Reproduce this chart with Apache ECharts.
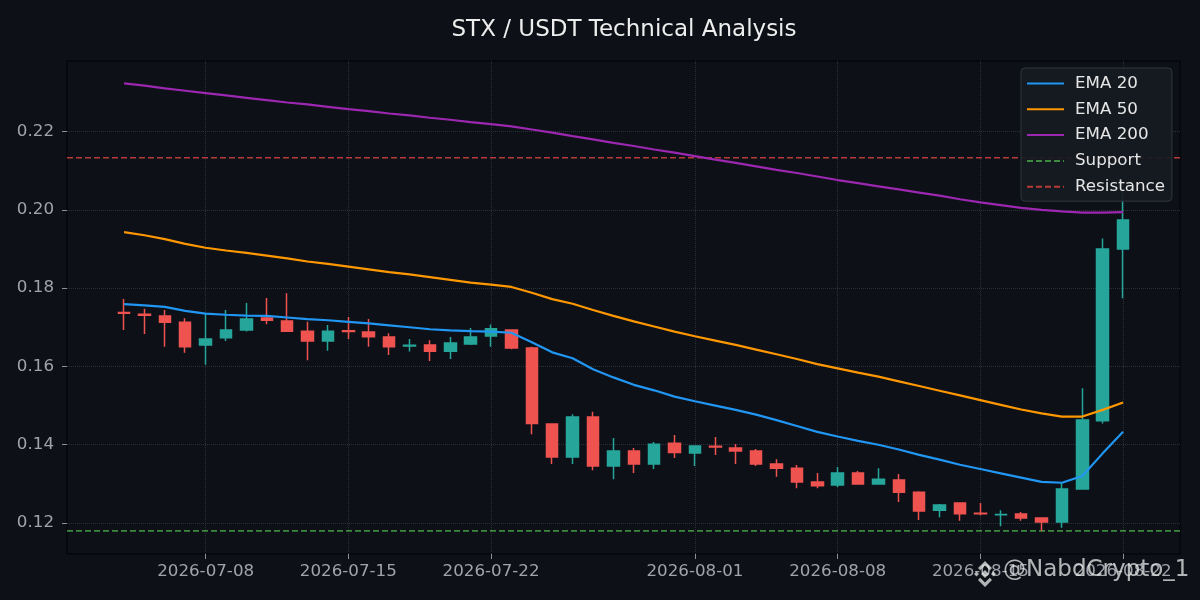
<!DOCTYPE html>
<html><head><meta charset="utf-8">
<script src="https://cdn.jsdelivr.net/npm/echarts@6/dist/echarts.min.js"></script>
<style>html,body{margin:0;padding:0;background:#0d1017}#c{width:1200px;height:600px}</style>
</head><body><div id="c"></div>
<script>
const dates = ['2026-07-04','2026-07-05','2026-07-06','2026-07-07','2026-07-08','2026-07-09','2026-07-10','2026-07-11','2026-07-12','2026-07-13',
'2026-07-14','2026-07-15','2026-07-16','2026-07-17','2026-07-18','2026-07-19','2026-07-20','2026-07-21','2026-07-22','2026-07-23',
'2026-07-24','2026-07-25','2026-07-26','2026-07-27','2026-07-28','2026-07-29','2026-07-30','2026-07-31','2026-08-01','2026-08-02',
'2026-08-03','2026-08-04','2026-08-05','2026-08-06','2026-08-07','2026-08-08','2026-08-09','2026-08-10','2026-08-11','2026-08-12',
'2026-08-13','2026-08-14','2026-08-15','2026-08-16','2026-08-17','2026-08-18','2026-08-19','2026-08-20','2026-08-21','2026-08-22'];
const opens = [0.1738,0.1733,0.1729,0.1713,0.1655,0.1673,0.1693,0.1724,0.1716,0.1690,
0.1665,0.1691,0.1688,0.1675,0.1652,0.1655,0.1639,0.1657,0.1678,0.1693,
0.1647,0.1453,0.1369,0.1471,0.1346,0.1384,0.1351,0.1404,0.1379,0.1396,
0.1392,0.1384,0.1351,0.1340,0.1305,0.1297,0.1328,0.1300,0.1310,0.1279,
0.1233,0.1251,0.1225,0.1221,0.1223,0.1213,0.1203,0.1287,0.1461,0.1900];
const closes = [0.1736,0.1731,0.1713,0.1650,0.1670,0.1693,0.1721,0.1718,0.1690,0.1665,
0.1690,0.1689,0.1676,0.1650,0.1654,0.1639,0.1660,0.1675,0.1696,0.1647,
0.1454,0.1369,0.1471,0.1346,0.1384,0.1351,0.1401,0.1380,0.1397,0.1394,
0.1384,0.1351,0.1340,0.1305,0.1295,0.1328,0.1300,0.1312,0.1279,0.1231,
0.1246,0.1224,0.1224,0.1222,0.1213,0.1203,0.1287,0.1463,0.1900,0.1974];
const lows = [0.1693,0.1683,0.1650,0.1635,0.1604,0.1665,0.1689,0.1708,0.1690,0.1616,
0.1640,0.1670,0.1650,0.1629,0.1638,0.1614,0.1619,0.1655,0.1650,0.1644,
0.1427,0.1351,0.1351,0.1335,0.1312,0.1328,0.1338,0.1366,0.1346,0.1374,
0.1351,0.1346,0.1318,0.1289,0.1289,0.1292,0.1300,0.1300,0.1254,0.1208,
0.1215,0.1206,0.1220,0.1192,0.1206,0.1180,0.1188,0.1287,0.1454,0.1774];
const highs = [0.1772,0.1747,0.1744,0.1723,0.1736,0.1744,0.1762,0.1775,0.1787,0.1714,
0.1706,0.1726,0.1721,0.1685,0.1670,0.1667,0.1675,0.1698,0.1707,0.1693,
0.1650,0.1453,0.1478,0.1484,0.1417,0.1392,0.1407,0.1425,0.1397,0.1420,
0.1402,0.1389,0.1363,0.1348,0.1328,0.1343,0.1333,0.1340,0.1325,0.1281,
0.1249,0.1251,0.1251,0.1233,0.1228,0.1215,0.1302,0.1544,0.1927,0.2050];
const ema20 = [0.1759,0.1756,0.1752,0.1742,0.1735,0.1732,0.1730,0.1729,0.1725,0.1721,
0.1718,0.1714,0.1710,0.1705,0.1700,0.1695,0.1692,0.1690,0.1689,0.1686,
0.1662,0.1636,0.1621,0.1593,0.1572,0.1553,0.1539,0.1523,0.1511,0.1500,
0.1489,0.1477,0.1463,0.1448,0.1433,0.1421,0.1410,0.1400,0.1388,0.1374,
0.1362,0.1349,0.1338,0.1327,0.1316,0.1305,0.1303,0.1320,0.1378,0.1433];
const ema50 = [0.1943,0.1935,0.1925,0.1913,0.1903,0.1896,0.1890,0.1883,0.1876,0.1868,
0.1862,0.1855,0.1848,0.1841,0.1835,0.1828,0.1821,0.1814,0.1809,0.1803,
0.1788,0.1772,0.1760,0.1744,0.1729,0.1715,0.1702,0.1689,0.1677,0.1666,
0.1655,0.1643,0.1631,0.1619,0.1606,0.1595,0.1584,0.1574,0.1562,0.1550,
0.1538,0.1526,0.1514,0.1502,0.1490,0.1480,0.1472,0.1472,0.1489,0.1508];
const ema200 = [0.2323,0.2317,0.2310,0.2304,0.2298,0.2292,0.2286,0.2280,0.2274,0.2269,
0.2263,0.2257,0.2252,0.2246,0.2241,0.2235,0.2230,0.2224,0.2219,0.2213,
0.2205,0.2197,0.2188,0.2180,0.2171,0.2163,0.2154,0.2146,0.2137,0.2128,
0.2120,0.2111,0.2102,0.2094,0.2085,0.2076,0.2068,0.2060,0.2052,0.2044,
0.2036,0.2027,0.2019,0.2012,0.2005,0.2000,0.1996,0.1993,0.1993,0.1994];
const SUPPORT = 0.1180;
const RESISTANCE = 0.2133;
const xTickLabels = ['2026-07-08','2026-07-15','2026-07-22','2026-08-01','2026-08-08','2026-08-15','2026-08-22'];
const yTickValues = [0.12,0.14,0.16,0.18,0.20,0.22];

const ts = d => Date.parse(d + 'T00:00:00Z');
const HOUR = 3600000;
const xMin = ts('2026-07-01') + 4.8 * HOUR;
const xMax = ts('2026-08-24') + 19 * HOUR;
const FONT = 'DejaVu Sans';

const candleData = dates.map((d, i) => [ts(d), opens[i], closes[i], lows[i], highs[i]]);
const lineData = arr => dates.map((d, i) => [ts(d), arr[i]]);

const chart = echarts.init(document.getElementById('c'), null, {renderer: 'canvas'});
const gridColor = '#2c3038';
const labelColor = '#a0a4aa';

const cx = 985, cy = 574;
const wmFill = 'rgba(235,235,235,0.75)';
const poly = pts => ({type: 'polygon', shape: {points: pts.map(p => [cx + p[0], cy + p[1]])}, style: {fill: wmFill}, z: 100});

chart.setOption({
  backgroundColor: '#0d1017',
  animation: false,
  textStyle: {fontFamily: FONT},
  title: {
    text: 'STX / USDT Technical Analysis',
    left: 619, textAlign: 'center', top: 14,
    textStyle: {color: '#eeeeee', fontSize: 23, fontWeight: 'normal', fontFamily: FONT}
  },
  grid: {left: 67, right: 20, top: 61, bottom: 46, show: true, borderColor: '#000000', borderWidth: 1, backgroundColor: '#0d1017'},
  legend: {
    left: 1021, top: 68, orient: 'vertical',
    padding: [7, 7, 6, 5],
    itemWidth: 37, itemHeight: 16, itemGap: 8.8,
    itemStyle: {opacity: 0},
    backgroundColor: 'rgba(22,27,34,0.92)', borderColor: '#30363d', borderWidth: 1, borderRadius: 4,
    textStyle: {color: '#e6e6e6', fontSize: 16.7, fontFamily: FONT, padding: [0, 0, 0, 6]},
    data: ['EMA 20', 'EMA 50', 'EMA 200', 'Support', 'Resistance']
  },
  xAxis: {
    type: 'value', min: xMin, max: xMax, scale: true,
    axisLine: {show: false},
    axisTick: {show: true, length: 5, lineStyle: {color: '#8a8f96'}, customValues: xTickLabels.map(ts)},
    axisLabel: {color: labelColor, fontSize: 16.7, fontFamily: FONT, margin: 9,
      customValues: xTickLabels.map(ts),
      formatter: v => new Date(v).toISOString().slice(0, 10)},
    splitLine: {show: true, lineStyle: {color: gridColor, type: 'dotted', width: 1}}
  },
  yAxis: {
    type: 'value', min: 0.1121, max: 0.238,
    axisLine: {show: false},
    axisTick: {show: true, length: 5, lineStyle: {color: '#8a8f96'}, customValues: yTickValues},
    axisLabel: {color: labelColor, fontSize: 16.7, fontFamily: FONT, margin: 13,
      customValues: yTickValues, formatter: v => v.toFixed(2)},
    splitLine: {show: true, lineStyle: {color: gridColor, type: 'dotted', width: 1}}
  },
  series: [
    {
      name: 'Price', type: 'candlestick', data: candleData, encode: {x: 0, y: [1, 2, 3, 4]},
      barWidth: 12,
      itemStyle: {color: '#26a69a', color0: '#ef5350', borderColor: '#26a69a', borderColor0: '#ef5350', borderWidth: 1.5},
      z: 2
    },
    {name: 'EMA 20', type: 'line', data: lineData(ema20), showSymbol: false, symbol: 'none', lineStyle: {color: '#2196f3', width: 2.2}, itemStyle: {color: '#2196f3'}, z: 3},
    {name: 'EMA 50', type: 'line', data: lineData(ema50), showSymbol: false, symbol: 'none', lineStyle: {color: '#ff9800', width: 2.2}, itemStyle: {color: '#ff9800'}, z: 3},
    {name: 'EMA 200', type: 'line', data: lineData(ema200), showSymbol: false, symbol: 'none', lineStyle: {color: '#9c27b0', width: 2.2}, itemStyle: {color: '#9c27b0'}, z: 3},
    {name: 'Support', type: 'line', data: [[xMin, SUPPORT], [xMax, SUPPORT]], showSymbol: false, symbol: 'none',
      lineStyle: {color: '#3b8a3f', width: 1.6, type: [6, 3]}, itemStyle: {color: '#3b8a3f'}, z: 1},
    {name: 'Resistance', type: 'line', data: [[xMin, RESISTANCE], [xMax, RESISTANCE]], showSymbol: false, symbol: 'none',
      lineStyle: {color: '#b83a3a', width: 1.6, type: [6, 3]}, itemStyle: {color: '#b83a3a'}, z: 1}
  ],
  graphic: [
    {type: 'text', left: 1003, top: 559, style: {text: '@NabdCrypto_1', fill: wmFill, font: '23px "DejaVu Sans"'}, z: 100},
    poly([[0,-4],[4,0],[0,4],[-4,0]]),
    poly([[-8.5,-2.5],[-6,0],[-8.5,2.5],[-11,0]]),
    poly([[8.5,-2.5],[11,0],[8.5,2.5],[6,0]]),
    poly([[0,-13],[7,-6],[4.8,-3.8],[0,-8.6],[-4.8,-3.8],[-7,-6]]),
    poly([[0,13],[7,6],[4.8,3.8],[0,8.6],[-4.8,3.8],[-7,6]])
  ]
});
</script>
</body></html>
